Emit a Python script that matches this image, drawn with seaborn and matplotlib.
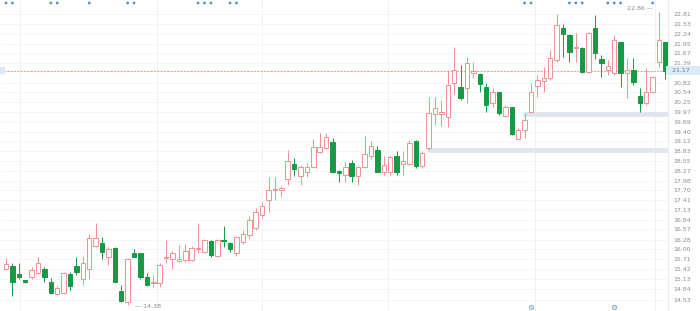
import matplotlib
matplotlib.use("Agg")
import matplotlib.pyplot as plt
from matplotlib.patches import Rectangle
import numpy as np
import pandas as pd
import seaborn as sns

# ---------------- data ----------------
opens = [15.43, 15.51, 15.28, 15.11, 15.19, 15.30, 15.42, 15.06, 14.70, 14.74,
         15.27, 15.51, 15.13, 15.42, 16.09, 16.19, 15.78, 16.03, 14.80, 14.48,
         15.88, 15.88, 15.20, 15.02, 15.02, 15.75, 15.71, 15.67, 15.68, 15.68,
         16.00, 15.91, 16.25, 15.79, 16.27, 16.19, 15.88, 16.20, 16.42, 16.60,
         17.00, 17.43, 17.72, 17.71, 18.03, 18.47, 18.12, 18.23, 18.38, 18.81,
         18.93, 19.10, 18.26, 18.15, 18.49, 18.12, 18.38, 18.70, 18.87, 18.23,
         18.23, 18.70, 18.47, 18.47, 19.13, 18.41, 18.93, 19.91, 19.91, 19.83,
         20.81, 20.70, 20.67, 21.10, 21.07, 20.70, 20.23, 20.55, 19.86, 20.12,
         19.19, 19.45, 19.97, 20.72, 20.87, 20.96, 21.48, 22.40, 22.20, 21.82,
         21.82, 21.13, 22.40, 21.51, 21.19, 21.10, 22.00, 21.10, 21.19, 20.43,
         20.23, 20.55, 21.42, 22.00]
highs = [15.75, 15.60, 15.60, 15.12, 15.49, 15.77, 15.49, 15.16, 14.94, 15.35,
         15.35, 15.78, 15.80, 16.44, 16.76, 16.36, 16.07, 16.05, 14.96, 15.74,
         16.00, 15.90, 15.30, 15.25, 15.60, 16.28, 15.95, 16.12, 16.15, 16.10,
         16.76, 16.30, 16.27, 16.29, 16.67, 16.22, 16.39, 16.55, 16.95, 17.20,
         17.37, 18.09, 18.09, 17.83, 18.86, 18.64, 18.44, 18.50, 19.19, 19.36,
         19.36, 19.22, 18.29, 18.52, 18.58, 18.41, 19.28, 19.14, 19.00, 18.70,
         18.73, 18.84, 18.84, 19.17, 19.17, 18.84, 20.41, 20.41, 20.32, 21.19,
         21.85, 21.33, 21.56, 21.42, 21.10, 20.81, 20.67, 20.55, 20.18, 20.12,
         19.51, 19.94, 20.81, 21.04, 21.27, 21.77, 22.80, 22.52, 22.23, 22.26,
         21.85, 22.29, 22.78, 21.62, 21.48, 22.20, 22.00, 21.53, 21.53, 20.67,
         21.25, 21.02, 22.86, 22.00]
lows = [15.40, 14.65, 15.14, 15.01, 15.13, 15.28, 15.06, 14.70, 14.67, 14.70,
        14.82, 15.25, 14.96, 15.13, 16.07, 15.71, 15.54, 15.04, 14.48, 14.38,
        15.76, 15.15, 14.93, 14.91, 14.91, 15.59, 15.42, 15.62, 15.64, 15.66,
        15.90, 15.88, 15.78, 15.76, 16.07, 15.93, 15.80, 16.15, 16.30, 16.55,
        16.90, 17.08, 17.43, 17.52, 17.86, 18.12, 17.86, 18.09, 18.35, 18.78,
        18.90, 18.20, 17.94, 17.94, 17.94, 17.86, 18.35, 18.61, 18.23, 18.15,
        18.15, 18.15, 18.15, 18.44, 18.35, 18.35, 18.87, 19.60, 19.57, 19.54,
        20.49, 20.32, 20.23, 20.96, 20.55, 19.97, 20.12, 19.88, 19.83, 19.31,
        19.19, 19.22, 19.97, 20.41, 20.55, 20.90, 21.42, 21.56, 21.42, 21.42,
        21.10, 21.10, 21.51, 20.99, 21.04, 21.04, 20.70, 20.38, 20.75, 19.97,
        20.18, 20.52, 21.27, 20.93]
closes = [15.57, 15.06, 15.19, 15.04, 15.40, 15.59, 15.20, 14.74, 14.87, 15.30,
          14.94, 15.35, 15.59, 16.32, 16.32, 15.93, 16.00, 15.06, 14.50, 15.71,
          15.77, 15.20, 14.96, 15.06, 15.55, 15.78, 15.88, 15.71, 15.95, 16.03,
          16.04, 16.27, 15.83, 16.27, 16.23, 16.00, 16.36, 16.45, 16.85, 17.08,
          17.25, 17.71, 17.74, 17.77, 18.55, 18.32, 18.38, 18.38, 18.96, 18.96,
          19.25, 18.23, 18.20, 18.38, 18.12, 18.38, 18.76, 18.99, 18.23, 18.44,
          18.67, 18.23, 18.55, 19.07, 18.41, 18.79, 19.94, 20.09, 19.97, 20.75,
          21.19, 20.38, 21.39, 21.16, 20.78, 20.18, 20.55, 19.94, 20.12, 19.34,
          19.45, 19.74, 20.55, 20.90, 20.96, 21.53, 22.49, 22.23, 21.71, 21.85,
          21.13, 22.26, 21.68, 21.39, 21.30, 22.06, 21.10, 21.19, 20.84, 20.23,
          20.55, 20.99, 22.06, 21.17]

tick_values = [14.53, 14.84, 15.13, 15.42, 15.71, 16.00, 16.28, 16.57, 16.84,
               17.13, 17.41, 17.70, 17.98, 18.27, 18.55, 18.83, 19.12, 19.40,
               19.69, 19.97, 20.25, 20.54, 20.82, 21.39, 21.67, 21.95,
               22.24, 22.53, 22.81]
last_price = 21.17
high_label = "22.86"
low_label = "14.38"
support_levels = [19.91, 18.87]
support_start = [81, 66]
event_top_idx = [0, 1, 7, 8, 13, 19, 20, 30, 31, 32, 35, 36, 81, 82, 88, 89, 90,
                 94, 95, 96, 101]
event_bottom_idx = [82, 95]
month_grid_idx = [2.2, 23.6, 40.0, 59.7, 82.7, 101.4]

# ---------------- style ----------------
sns.set_theme(style="white")
plt.rcParams['font.family'] = ['DejaVu Sans']

RED = "#f29090"
GREEN = "#159a45"

fig = plt.figure(figsize=(7.0, 3.11), dpi=100)
ax = fig.add_axes([0, 0, 668 / 700, 1])

n = len(opens)
df = pd.DataFrame({"idx": np.arange(n), "open": opens, "high": highs,
                   "low": lows, "close": closes})
df["up"] = df["close"] >= df["open"]

ax.set_xlim(-0.94, 103.4)
ax.set_ylim(14.21, 23.215)

# gridlines
for g in month_grid_idx:
    ax.axvline(g, color="#f2f2f2", lw=0.7, zorder=0)
ax.set_yticks(tick_values)
ax.set_yticklabels([f"{v:.2f}" for v in tick_values])
ax.yaxis.grid(True, color="#f5f5f5", lw=0.6)
ax.set_axisbelow(True)
ax.yaxis.tick_right()
ax.tick_params(axis="y", length=0, pad=4, labelsize=4.5, labelcolor="#8c8c8c")
ax.set_xticks([])
for s in ["top", "left", "bottom"]:
    ax.spines[s].set_visible(False)
ax.spines["right"].set_color("#ececec")
ax.spines["right"].set_linewidth(0.7)

# support zones
for lvl, st in zip(support_levels, support_start):
    ax.hlines(lvl, st - 0.3, 103.4, color="#dfe5ee", lw=3.4, zorder=1)

# current price line
ax.axhline(last_price, color="#f4a47f", lw=0.8, ls=(0, (2, 1)), zorder=1.2)

# wicks
colors = [RED if u else GREEN for u in df["up"]]
ax.vlines(df["idx"], df["low"], df["high"], colors=colors, lw=0.7, zorder=2)

# bodies
bottoms = np.minimum(df["open"], df["close"])
heights = np.maximum(np.abs(df["close"] - df["open"]), 0.03)
faces = ["white" if u else GREEN for u in df["up"]]
ax.bar(df["idx"], heights, bottom=bottoms, width=0.7, color=faces,
       edgecolor=colors, linewidth=0.7, zorder=3)

# event markers
sns.scatterplot(x=event_top_idx, y=[23.13] * len(event_top_idx), ax=ax,
                s=4, color="#4f8fd6", edgecolor="none", zorder=4, legend=False)
sns.scatterplot(x=event_bottom_idx, y=[14.32] * len(event_bottom_idx), ax=ax,
                s=10, color="#cfe2f7", edgecolor="#6fa3dd", linewidth=0.5,
                zorder=4, legend=False)

# high / low annotations
imax = int(np.argmax(highs))
imin = int(np.argmin(lows))
ax.text(imax - 0.9, 22.97, high_label + " —", ha="right", va="center",
        fontsize=4.5, color="#8c8c8c", zorder=5)
ax.text(imin + 1.2, 14.35, "— " + low_label, ha="left", va="center",
        fontsize=4.5, color="#8c8c8c", zorder=5)

# last price label
ax.text(1.0, last_price, f"  {last_price:.2f}     ", transform=ax.get_yaxis_transform(),
        ha="left", va="center", fontsize=4.5, color="#6b7c8f", clip_on=False,
        bbox=dict(boxstyle="square,pad=0.35", fc="#dbeaf8", ec="none"), zorder=6)
ax.add_patch(Rectangle((0, last_price - 0.1), 0.007, 0.2,
                       transform=ax.get_yaxis_transform(), fc="#dbeaf8",
                       ec="none", zorder=6, clip_on=False))

fig.savefig("out.png", dpi=100)
